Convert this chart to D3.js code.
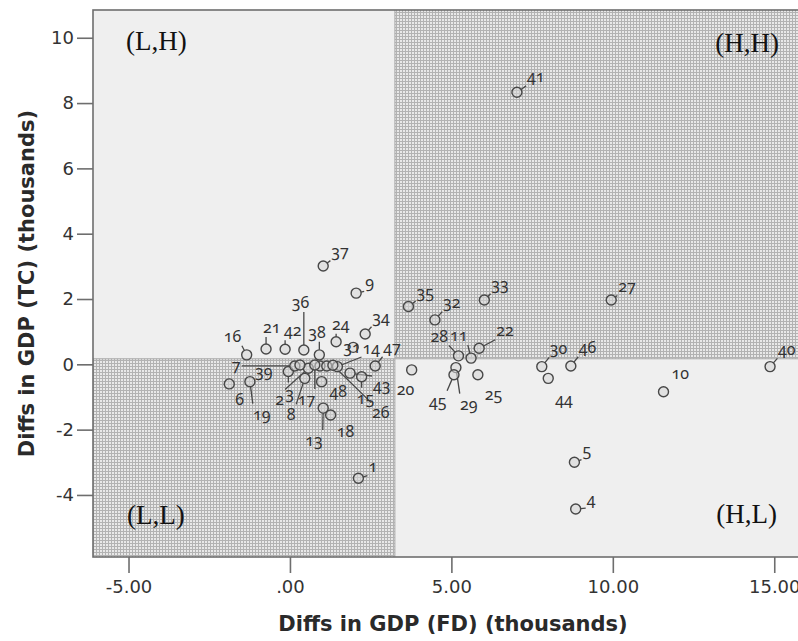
<!DOCTYPE html>
<html>
<head>
<meta charset="utf-8">
<script src="https://cdn.jsdelivr.net/npm/d3@7"></script>
<style>
  html, body { margin: 0; padding: 0; background: #fff; }
  svg { display: block; }
</style>
</head>
<body>
<div id="chart"></div>
<script>
// Номера наблюдений и значения (тыс.)
const ids = [1, 2, 3, 4, 5, 6, 7, 8, 9, 10, 11, 12, 13, 14, 15, 16, 17, 18, 19, 20, 21, 22, 23, 24,
  25, 26, 27, 28, 29, 30, 31, 32, 33, 34, 35, 36, 37, 38, 39, 40, 41, 42, 43, 44, 45, 46, 47, 48]
const fd = [2.12, 0.57, -0.05, 8.85, 8.81, -1.88, 0.15, 0.46, 2.05, 11.57, 5.61, 0.93, 1.03, 1.47, 2.22, -1.34,
  0.77, 1.26, -1.24, 3.77, -0.74, 5.86, 1.14, 1.43, 5.82, 1.33, 9.95, 5.22, 5.14, 7.80, 1.96, 4.49,
  6.02, 2.33, 3.67, 0.43, 1.03, 0.91, 0.31, 14.87, 7.03, -0.15, 1.86, 8.00, 5.08, 8.70, 2.64, 0.98]
const tc = [-3.49, -0.12, -0.22, -4.43, -3.00, -0.60, -0.05, -0.43, 2.18, -0.84, 0.19, -0.05, -1.34, -0.07, -0.38, 0.29,
  -0.02, -1.55, -0.53, -0.17, 0.47, 0.49, -0.05, 0.69, -0.32, -0.03, 1.97, 0.26, -0.10, -0.07, 0.52, 1.36,
  1.97, 0.93, 1.77, 0.44, 3.01, 0.29, -0.02, -0.07, 8.33, 0.46, -0.27, -0.43, -0.32, -0.05, -0.05, -0.53]

const xTicks = [-5, 0, 5, 10, 15]
const yTicks = [-4, -2, 0, 2, 4, 6, 8, 10]
const splitFD = 3.25
const splitTC = 0.17
const quadrantNames = ['(L,H)', '(H,H)', '(L,L)', '(H,L)']
const xTitle = 'Diffs in GDP (FD) (thousands)'
const yTitle = 'Diffs in GDP (TC) (thousands)'

// Смещения подписей точек (px): [dx, dy, выноска]
const nudge = {
  1: [10, -6, true], 4: [11, -4, true], 5: [8, -6, true], 41: [10, -10, true],
  9: [9, -5, true], 34: [7, -11, true], 32: [8, -12, true], 33: [7, -10, true],
  27: [7, -8, true], 22: [17, -12, true], 28: [-28, -14, true], 11: [-21, -17, true],
  30: [8, -13, true], 46: [8, -13, true], 40: [8, -12, true], 10: [8, -13, false],
  44: [7, 27, false], 20: [-15, 25, false], 25: [7, 25, false], 45: [-25, 32, true],
  29: [4, 42, true], 16: [-23, -13, true], 21: [-3, -16, true], 42: [-1, -13, true],
  36: [-12, -42, true], 38: [-11, -17, true], 24: [-4, -12, true], 31: [-10, 6, false],
  14: [25, -13, true], 47: [8, -13, true], 7: [-63, 5, true], 39: [-45, 12, false],
  6: [6, 21, false], 19: [3, 38, true], 3: [-3, 27, true], 2: [-33, 37, true],
  17: [-17, 40, true], 8: [-18, 42, true], 48: [8, 15, false], 15: [-5, 27, true],
  43: [23, 18, true], 26: [39, 53, true], 13: [-18, 38, true], 18: [6, 22, false],
  12: null, 23: null
}

const config = {
  width: 798,
  height: 641,
  plotLeft: 93,
  plotRight: 813,
  plotTop: 10,
  plotBottom: 557,
  colors: {
    plain: '#efefef',
    hatchBg: '#e8e8e8',
    hatchLine: '#b2b2b2',
    frame: '#6e6e6e',
    text: '#333',
    dot: '#d6d6d6',
    dotStroke: '#474747'
  }
}

function renderChart() {
  const { width, height, plotLeft, plotRight, plotTop, plotBottom, colors } = config
  const points = ids.map((id, i) => ({ id, fd: fd[i], tc: tc[i] }))

  const svg = d3.select('#chart')
    .append('svg')
    .attr('width', width)
    .attr('height', height)

  const x = d3.scaleLinear().domain([-6.1, 16.2]).range([plotLeft, plotRight])
  const y = d3.scaleLinear().domain([-5.9, 10.85]).range([plotBottom, plotTop])

  // Штриховка
  const pattern = svg.append('defs')
    .append('pattern')
    .attr('id', 'hatch')
    .attr('width', 3)
    .attr('height', 3)
    .attr('patternUnits', 'userSpaceOnUse')
  pattern.append('rect').attr('width', 3).attr('height', 3).attr('fill', colors.hatchBg)
  pattern.append('path')
    .attr('d', 'M0,0.5H3M0.5,0V3')
    .attr('stroke', colors.hatchLine)
    .attr('stroke-width', 1)

  // Квадранты
  const [x0, x1] = x.domain()
  const [y0, y1] = y.domain()
  const quads = [
    { x: [x0, splitFD], y: [splitTC, y1], fill: colors.plain },
    { x: [splitFD, x1], y: [splitTC, y1], fill: 'url(#hatch)' },
    { x: [x0, splitFD], y: [y0, splitTC], fill: 'url(#hatch)' },
    { x: [splitFD, x1], y: [y0, splitTC], fill: colors.plain }
  ]
  svg.append('g')
    .selectAll('rect')
    .data(quads)
    .enter()
    .append('rect')
    .attr('x', d => x(d.x[0]))
    .attr('y', d => y(d.y[1]))
    .attr('width', d => x(d.x[1]) - x(d.x[0]))
    .attr('height', d => y(d.y[0]) - y(d.y[1]))
    .attr('fill', d => d.fill)

  svg.append('line')
    .attr('x1', x(splitFD)).attr('x2', x(splitFD))
    .attr('y1', plotTop).attr('y2', plotBottom)
    .attr('stroke', '#a8a8a8')
  svg.append('line')
    .attr('x1', plotLeft).attr('x2', plotRight)
    .attr('y1', y(splitTC)).attr('y2', y(splitTC))
    .attr('stroke', '#a8a8a8')

  // Рамка
  svg.append('rect')
    .attr('x', plotLeft)
    .attr('y', plotTop)
    .attr('width', plotRight - plotLeft)
    .attr('height', plotBottom - plotTop)
    .attr('fill', 'none')
    .attr('stroke', colors.frame)
    .attr('stroke-width', 1.6)

  // Оси
  const xAxis = svg.append('g')
    .attr('transform', `translate(0,${plotBottom})`)
    .call(d3.axisBottom(x)
      .tickValues(xTicks)
      .tickSize(16)
      .tickPadding(7)
      .tickFormat(d => d === 0 ? '.00' : d.toFixed(2)))
  xAxis.select('.domain').remove()
  xAxis.selectAll('line').attr('stroke', colors.frame).attr('stroke-width', 1.6)
  xAxis.selectAll('text')
    .attr('fill', colors.text)
    .style('font-family', '"DejaVu Sans", sans-serif')
    .style('font-size', '18px')

  const yAxis = svg.append('g')
    .attr('transform', `translate(${plotLeft},0)`)
    .call(d3.axisLeft(y)
      .tickValues(yTicks)
      .tickSize(16)
      .tickPadding(3)
      .tickFormat(d => String(d)))
  yAxis.select('.domain').remove()
  yAxis.selectAll('line').attr('stroke', colors.frame).attr('stroke-width', 1.6)
  yAxis.selectAll('text')
    .attr('fill', colors.text)
    .style('font-family', '"DejaVu Sans", sans-serif')
    .style('font-size', '18px')

  // Подписи осей
  svg.append('text')
    .attr('x', (plotLeft + plotRight) / 2)
    .attr('y', 631)
    .attr('text-anchor', 'middle')
    .attr('fill', '#2a2a2a')
    .style('font-family', '"DejaVu Sans", sans-serif')
    .style('font-size', '21px')
    .style('font-weight', '600')
    .text(xTitle)

  svg.append('text')
    .attr('transform', `translate(34,${(plotTop + plotBottom) / 2}) rotate(-90)`)
    .attr('text-anchor', 'middle')
    .attr('fill', '#2a2a2a')
    .style('font-family', '"DejaVu Sans", sans-serif')
    .style('font-size', '21px')
    .style('font-weight', '600')
    .text(yTitle)

  // Точки и подписи
  const r = 5
  const layer = svg.append('g')
  const leaderG = layer.append('g')
  const dotG = layer.append('g')
  const labelG = layer.append('g')

  const labels = labelG.selectAll('text')
    .data(points.filter(d => nudge[d.id] !== null))
    .enter()
    .append('text')
    .attr('x', d => x(d.fd) + (nudge[d.id] || [8, -9])[0])
    .attr('y', d => y(d.tc) + (nudge[d.id] || [8, -9])[1])
    .attr('fill', colors.text)
    .style('font-family', '"Noto Sans", sans-serif')
    .style('font-size', '16px')
    .style('font-variant-numeric', 'oldstyle-nums')
    .text(d => d.id)

  // Выноски
  const leaders = []
  labels.each(function (d) {
    const n = nudge[d.id] || [8, -9, true]
    if (!n[2]) return
    const b = this.getBBox()
    const cx = x(d.fd), cy = y(d.tc)
    const px = Math.max(b.x, Math.min(cx, b.x + b.width))
    const py = Math.max(b.y + 2, Math.min(cy, b.y + b.height - 2))
    const dist = Math.hypot(px - cx, py - cy)
    if (dist <= r + 1) return
    const ux = (px - cx) / dist, uy = (py - cy) / dist
    leaders.push({ x1: cx + ux * r, y1: cy + uy * r, x2: px - ux, y2: py - uy })
  })
  leaderG.selectAll('line')
    .data(leaders)
    .enter()
    .append('line')
    .attr('x1', d => d.x1).attr('y1', d => d.y1)
    .attr('x2', d => d.x2).attr('y2', d => d.y2)
    .attr('stroke', colors.dotStroke)
    .attr('stroke-width', 1.3)

  dotG.selectAll('circle')
    .data(points)
    .enter()
    .append('circle')
    .attr('cx', d => x(d.fd))
    .attr('cy', d => y(d.tc))
    .attr('r', r)
    .attr('fill', colors.dot)
    .attr('fill-opacity', 0.55)
    .attr('stroke', colors.dotStroke)
    .attr('stroke-width', 1.4)

  // Названия квадрантов
  const qText = [
    { t: quadrantNames[0], x: plotLeft + 33, y: plotTop + 40, anchor: 'start' },
    { t: quadrantNames[1], x: plotRight - 34, y: plotTop + 42, anchor: 'end' },
    { t: quadrantNames[2], x: plotLeft + 34, y: plotBottom - 33, anchor: 'start' },
    { t: quadrantNames[3], x: plotRight - 36, y: plotBottom - 34, anchor: 'end' }
  ]
  svg.append('g')
    .selectAll('text')
    .data(qText)
    .enter()
    .append('text')
    .attr('x', d => d.x)
    .attr('y', d => d.y)
    .attr('text-anchor', d => d.anchor)
    .attr('fill', '#111')
    .style('font-family', '"Liberation Serif", serif')
    .style('font-size', '27px')
    .text(d => d.t)
}

renderChart()
</script>
</body>
</html>
